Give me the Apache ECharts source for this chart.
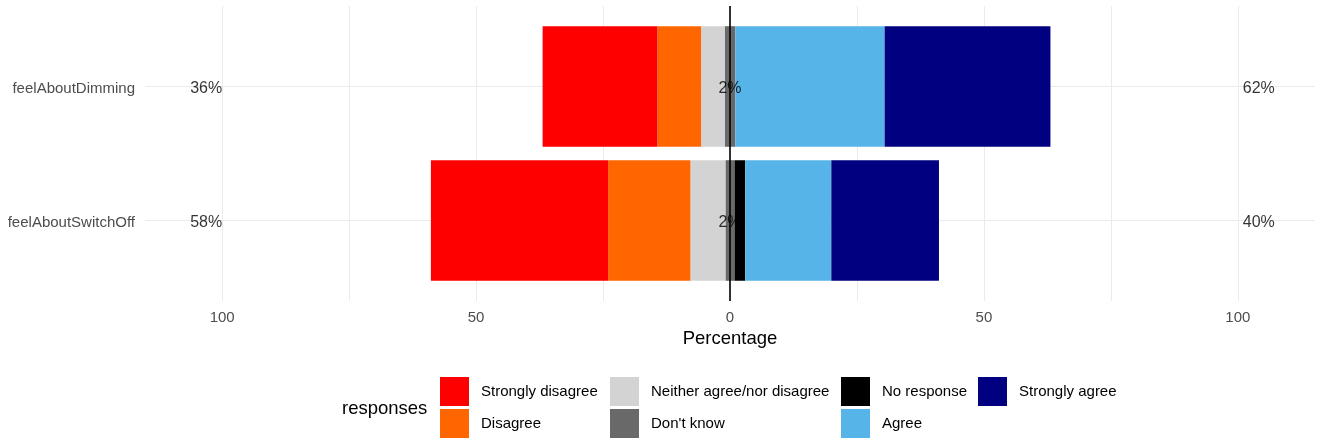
<!DOCTYPE html>
<html><head><meta charset="utf-8">
<script src="https://cdn.jsdelivr.net/npm/echarts@6/dist/echarts.min.js"></script>
<style>html,body{margin:0;padding:0;background:#fff}#c{width:1324px;height:444px}</style>
</head><body><div id="c"></div>
<script>
// ---- data (categories listed bottom to top) ----
const questions = ['feelAboutSwitchOff', 'feelAboutDimming'];
const stronglyDisagree = [34.9, 22.6];
const disagree = [16.2, 8.6];
const neither = [6.9, 4.65];
const dontKnow = [1.8, 2.1];
const noResponse = [2.1, 0];
const agree = [16.95, 29.4];
const stronglyAgree = [21.2, 32.65];
const xTickLabels = [-100, -50, 0, 50, 100];
const xGridValues = [-100, -75, -50, -25, 0, 25, 50, 75, 100];
const responseLevels = ['Strongly disagree', 'Disagree', 'Neither agree/nor disagree', "Don't know", 'No response', 'Agree', 'Strongly agree'];
const responseColors = ['#FF0000', '#FF6600', '#D3D3D3', '#696969', '#000000', '#56B4E9', '#000080'];

const FONT = 'Liberation Sans, Arial, sans-serif';
const X_MIN = -115.2, X_MAX = 115.2;

const lowPct = questions.map((q, i) => Math.round(stronglyDisagree[i] + disagree[i] + neither[i]));
const midPct = questions.map((q, i) => Math.round(dontKnow[i]));
const highPct = questions.map((q, i) => Math.round(noResponse[i] + agree[i] + stronglyAgree[i]));

const neg = a => a.map(v => -v);
const half = a => a.map(v => v / 2);

function barSeries(name, values, colorIdx) {
  return {
    type: 'bar', name: name, stack: 'likert', xAxisIndex: 1, yAxisIndex: 1,
    barWidth: '90%', silent: true, z: 2,
    itemStyle: { color: responseColors[colorIdx] },
    data: values
  };
}

function labelSeries(xPos, pcts, pos, dist) {
  return {
    type: 'scatter', xAxisIndex: 1, yAxisIndex: 1, symbolSize: 0, silent: true, z: 4,
    data: questions.map((q, i) => [xPos, q, pcts[i] + '%']),
    label: {
      show: true, position: pos, distance: dist, offset: [0, 2],
      formatter: p => p.value[2],
      color: '#000', fontSize: 16, fontFamily: FONT
    }
  };
}

const legendCols = [
  { left: 440, data: ['Strongly disagree', 'Disagree'] },
  { left: 610, data: ['Neither agree/nor disagree', "Don't know"] },
  { left: 841, data: ['No response', 'Agree'] },
  { left: 978, data: ['Strongly agree'] }
];

const option = {
  animation: false,
  backgroundColor: '#fff',
  textStyle: { fontFamily: FONT },
  title: {
    text: 'responses', left: 342, top: 399, padding: 0,
    textStyle: { fontSize: 18.5, fontWeight: 'normal', color: '#000', fontFamily: FONT }
  },
  legend: legendCols.map(c => ({
    orient: 'vertical', left: c.left, top: 377, padding: 0,
    itemWidth: 29, itemHeight: 29, itemGap: 3, icon: 'rect',
    selectedMode: false,
    data: c.data,
    textStyle: { fontSize: 15, color: '#000', fontFamily: FONT, padding: [0, 0, 0, 7] }
  })),
  grid: [
    { left: 145, right: 9, top: 6, height: 295 },
    { left: 145, right: 9, top: 19.5, height: 268 }
  ],
  xAxis: [
    {
      gridIndex: 0, type: 'value', min: X_MIN, max: X_MAX,
      axisLine: { show: false },
      axisTick: { show: false, customValues: xGridValues },
      axisLabel: {
        customValues: xTickLabels, formatter: v => String(Math.abs(v)),
        color: '#4d4d4d', fontSize: 15, margin: 9, fontFamily: FONT
      },
      splitLine: { show: true, lineStyle: { color: '#ebebeb', width: 1 } },
      name: 'Percentage', nameLocation: 'middle', nameGap: 28,
      nameTextStyle: { fontSize: 18.5, color: '#000', fontFamily: FONT }
    },
    { gridIndex: 1, type: 'value', min: X_MIN, max: X_MAX, show: false }
  ],
  yAxis: [
    { gridIndex: 0, type: 'value', min: 0, max: 1, show: false },
    {
      gridIndex: 1, type: 'category', data: questions,
      axisLine: { show: false }, axisTick: { show: false },
      splitLine: { show: false },
      axisLabel: {
        margin: 10,
        formatter: v => '{q|' + v + '}',
        rich: { q: { color: '#4d4d4d', fontSize: 15, fontFamily: FONT, padding: [4, 0, 0, 0] } }
      }
    }
  ],
  series: [
    {
      type: 'line', xAxisIndex: 1, yAxisIndex: 1, data: [], silent: true,
      markLine: {
        silent: true, symbol: 'none', z: 1, animation: false,
        label: { show: false },
        lineStyle: { color: '#ebebeb', width: 1, type: 'solid' },
        data: questions.map(q => ({ yAxis: q }))
      }
    },
    barSeries("Don't know", neg(half(dontKnow)), 3),
    barSeries('Neither agree/nor disagree', neg(neither), 2),
    barSeries('Disagree', neg(disagree), 1),
    barSeries('Strongly disagree', neg(stronglyDisagree), 0),
    barSeries("Don't know", half(dontKnow), 3),
    barSeries('No response', noResponse, 4),
    barSeries('Agree', agree, 5),
    barSeries('Strongly agree', stronglyAgree, 6),
    {
      type: 'line', xAxisIndex: 0, yAxisIndex: 0, data: [], silent: true,
      markLine: {
        silent: true, symbol: 'none', z: 3, animation: false,
        label: { show: false },
        lineStyle: { color: '#000', width: 1.6, type: 'solid' },
        data: [{ xAxis: 0 }]
      }
    },
    labelSeries(-100, lowPct, 'left', 0),
    labelSeries(0, midPct, 'inside', 0),
    labelSeries(100, highPct, 'right', 5)
  ]
};

const chart = echarts.init(document.getElementById('c'), null, { renderer: 'canvas' });
chart.setOption(option);
</script>
</body></html>
